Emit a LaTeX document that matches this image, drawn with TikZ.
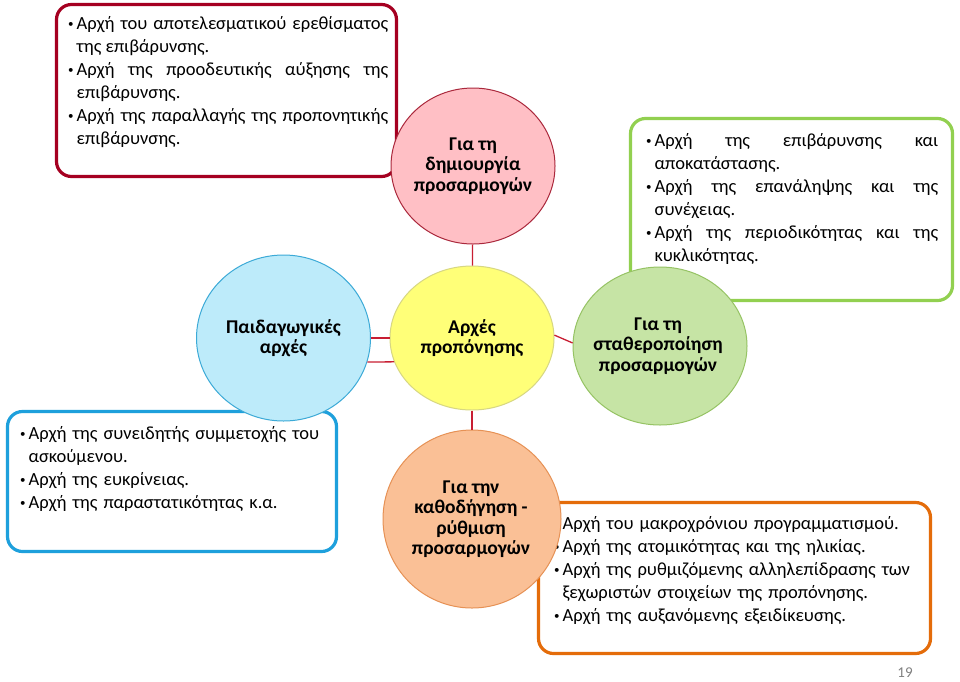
\documentclass[tikz,border=0pt]{standalone}
\usepackage{fontspec}
\setmainfont{Carlito}
\usetikzlibrary{shapes.geometric}
\definecolor{redB}{RGB}{165,0,33}
\definecolor{pinkF}{RGB}{255,191,197}
\definecolor{pinkD}{RGB}{170,40,60}
\definecolor{yellowF}{RGB}{255,255,120}
\definecolor{yellowD}{RGB}{215,215,130}
\definecolor{blueF}{RGB}{189,235,250}
\definecolor{blueD}{RGB}{60,170,215}
\definecolor{blueB}{RGB}{30,160,220}
\definecolor{greenF}{RGB}{198,228,165}
\definecolor{greenD}{RGB}{150,195,100}
\definecolor{greenB}{RGB}{146,208,80}
\definecolor{orangeF}{RGB}{250,192,150}
\definecolor{orangeD}{RGB}{230,145,85}
\definecolor{orangeB}{RGB}{228,108,10}
\definecolor{linkred}{RGB}{200,30,50}
\newcommand{\itm}[1]{\par\hyphenpenalty=10000\relax\hangindent=8.5pt\hangafter=1\noindent\strut\makebox[8.5pt][l]{\raisebox{2.2pt}{\fontsize{11}{11}\selectfont •}}#1\par}
\begin{document}
\begin{tikzpicture}[x=1pt,y=-1pt,
  framebox/.style={draw=#1, line width=3.2pt, rounded corners=15pt, fill=white, rectangle, inner sep=0pt},
  bub/.style={ellipse, draw=#1, line width=1pt, inner sep=0pt},
  bubtext/.style={inner sep=0pt, align=center, font=\fontsize{19.5}{20.5}\selectfont\bfseries},
  listtext/.style={anchor=north west, inner sep=0pt, text width=#1,
     font=\fontsize{18.5}{23}\selectfont},
  link/.style={draw=linkred, line width=1.3pt}]
\useasboundingbox[fill=white] (0,0) rectangle (960,681);

% boxes
\node[framebox=redB, minimum width=340pt, minimum height=172pt] (redbox) at (226.5,90.5) {};
\node[framebox=greenB, minimum width=322pt, minimum height=182pt] (greenbox) at (791.5,209.5) {};
\node[framebox=blueB, minimum width=329pt, minimum height=140pt] (bluebox) at (172,481.5) {};
\node[framebox=orangeB, minimum width=392pt, minimum height=151pt] (orangebox) at (734.5,578) {};

% box texts
\node[listtext=320pt, align=justify] (redtext) at (68,6) {%
\itm{Αρχή του αποτελεσματικού ερεθίσματος\linebreak της επιβάρυνσης.}
\itm{Αρχή της προοδευτικής αύξησης της\linebreak επιβάρυνσης.}
\itm{Αρχή της παραλλαγής της προπονητικής\linebreak επιβάρυνσης.}};

\node[listtext=292pt, align=justify] (greentext) at (646,123) {%
\itm{Αρχή της επιβάρυνσης και\linebreak αποκατάστασης.}
\itm{Αρχή της επανάληψης και της\linebreak συνέχειας.}
\itm{Αρχή της περιοδικότητας και της\linebreak κυκλικότητας.}};

\node[listtext=318pt, align=left] (bluetext) at (20,416) {%
\itm{Αρχή της συνειδητής συμμετοχής του\linebreak ασκούμενου.}
\itm{Αρχή της ευκρίνειας.}
\itm{Αρχή της παραστατικότητας κ.α.}};

\node[listtext=372pt, align=left] (orangetext) at (554,506) {%
\itm{Αρχή του μακροχρόνιου προγραμματισμού.}
\itm{Αρχή της ατομικότητας και της ηλικίας.}
\itm{Αρχή της ρυθμιζόμενης αλληλεπίδρασης των\linebreak ξεχωριστών στοιχείων της προπόνησης.}
\itm{Αρχή της αυξανόμενης εξειδίκευσης.}};

% circles
\node[bub=pinkD, fill=pinkF, minimum width=164pt, minimum height=156pt] (create) at (473,166) {};
\node[bub=yellowD, fill=yellowF, minimum width=164pt, minimum height=144pt] (core) at (472,338) {};
\node[bub=blueD, fill=blueF, minimum width=174pt, minimum height=166pt] (pedag) at (283.5,338) {};
\node[bub=greenD, fill=greenF, minimum width=174pt, minimum height=158pt] (stab) at (660,346) {};
\node[bub=orangeD, fill=orangeF, minimum width=178pt, minimum height=178pt] (guide) at (472,519) {};

% connectors
\draw[link] (create) -- (core);
\draw[link] (core) -- (guide);
\draw[link] (core.2) -- (stab.178);
\draw[link] (pedag) -- (core);
\draw[link] (pedag.-16) -- (core.197);

% circle texts
\node[bubtext] (createT) at (create.center) {Για τη\\δημιουργία\\προσαρμογών};
\node[bubtext] (coreT) at (core.center) {Αρχές\\προπόνησης};
\node[bubtext] (pedagT) at (pedag.center) {Παιδαγωγικές\\αρχές};
\node[bubtext] (stabT) at ([xshift=-2pt]stab.center) {Για τη\\σταθεροποίηση\\προσαρμογών};
\node[bubtext] (guideT) at ([xshift=-1pt]guide.center) {Για την\\καθοδήγηση -\\ρύθμιση\\προσαρμογών};

% page number
\node[inner sep=0pt, text=gray, font=\fontsize{15}{18}\selectfont] (pagenum) at (905,673) {19};
\end{tikzpicture}
\end{document}
